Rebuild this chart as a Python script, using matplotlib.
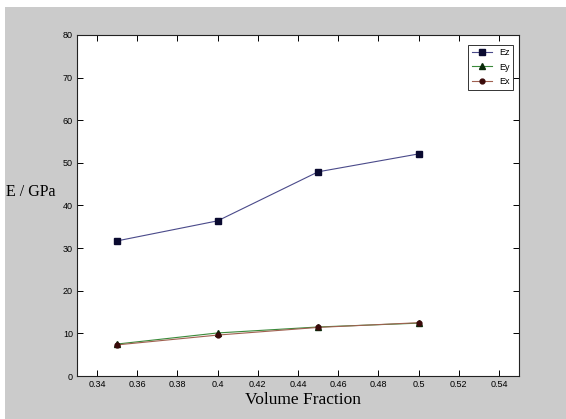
import numpy as np
import matplotlib.pyplot as plt
from matplotlib.patches import Rectangle
from matplotlib.ticker import FuncFormatter

# volume fraction vs elastic moduli
vf = [0.35, 0.40, 0.45, 0.50]
ez = [31.7, 36.4, 47.9, 52.1]
ey = [7.5, 10.1, 11.5, 12.4]
ex = [7.3, 9.6, 11.4, 12.5]

x_ticks = [0.34, 0.36, 0.38, 0.40, 0.42, 0.44, 0.46, 0.48, 0.50, 0.52, 0.54]
y_ticks = [0, 10, 20, 30, 40, 50, 60, 70, 80]

tick_font = ['Liberation Sans', 'DejaVu Sans']
label_font = ['Liberation Serif', 'DejaVu Serif']

fig = plt.figure(figsize=(5.66, 4.19), dpi=100, facecolor='white')
# grey matlab-style canvas with thin white strip at top/left
fig.patches.append(Rectangle((5 / 566, 0), 1, 1 - 7 / 419, transform=fig.transFigure,
                             facecolor='#cbcbcb', edgecolor='none', zorder=-10))

ax = fig.add_axes([77 / 566, 1 - 376 / 419, (519 - 77) / 566, (376 - 35) / 419])
ax.set_facecolor('white')

ax.plot(vf, ez, '-s', color='#4a4a8a', lw=0.8, ms=4, mfc='#0a0a30', mec='#0a0a30', label='Ez')
ax.plot(vf, ey, '-^', color='#3a8a3a', lw=0.8, ms=4, mfc='#0a2a0a', mec='#0a2a0a', label='Ey')
ax.plot(vf, ex, '-o', color='#a06050', lw=0.8, ms=3.5, mfc='#3a0a0a', mec='#3a0a0a', label='Ex')

ax.set_xlim(0.33, 0.55)
ax.set_ylim(0, 80)
ax.set_xticks(x_ticks)
ax.set_yticks(y_ticks)
ax.xaxis.set_major_formatter(FuncFormatter(lambda v, p: ('%g' % round(v, 2))))
ax.tick_params(direction='in', top=True, right=True, length=4, width=0.7,
               labelsize=6.5, pad=3)
for lab in ax.get_xticklabels() + ax.get_yticklabels():
    lab.set_family(tick_font)
for s in ax.spines.values():
    s.set_linewidth(0.8)
    s.set_color('#222222')

fig.text(303 / 566, 1 - 400 / 419, 'Volume Fraction', family=label_font,
         fontsize=12.5, ha='center', va='center')
fig.text(31 / 566, 1 - 192 / 419, 'E / GPa', family=label_font,
         fontsize=11.5, ha='center', va='center')

leg = ax.legend(loc='upper right', prop={'family': tick_font, 'size': 6.5},
                handlelength=2.2, borderpad=0.4, labelspacing=0.6,
                fancybox=False, edgecolor='#333333', framealpha=1,
                bbox_to_anchor=(0.997, 0.985))
leg.get_frame().set_linewidth(0.7)

plt.savefig('out.png', dpi=100, facecolor=fig.get_facecolor())
